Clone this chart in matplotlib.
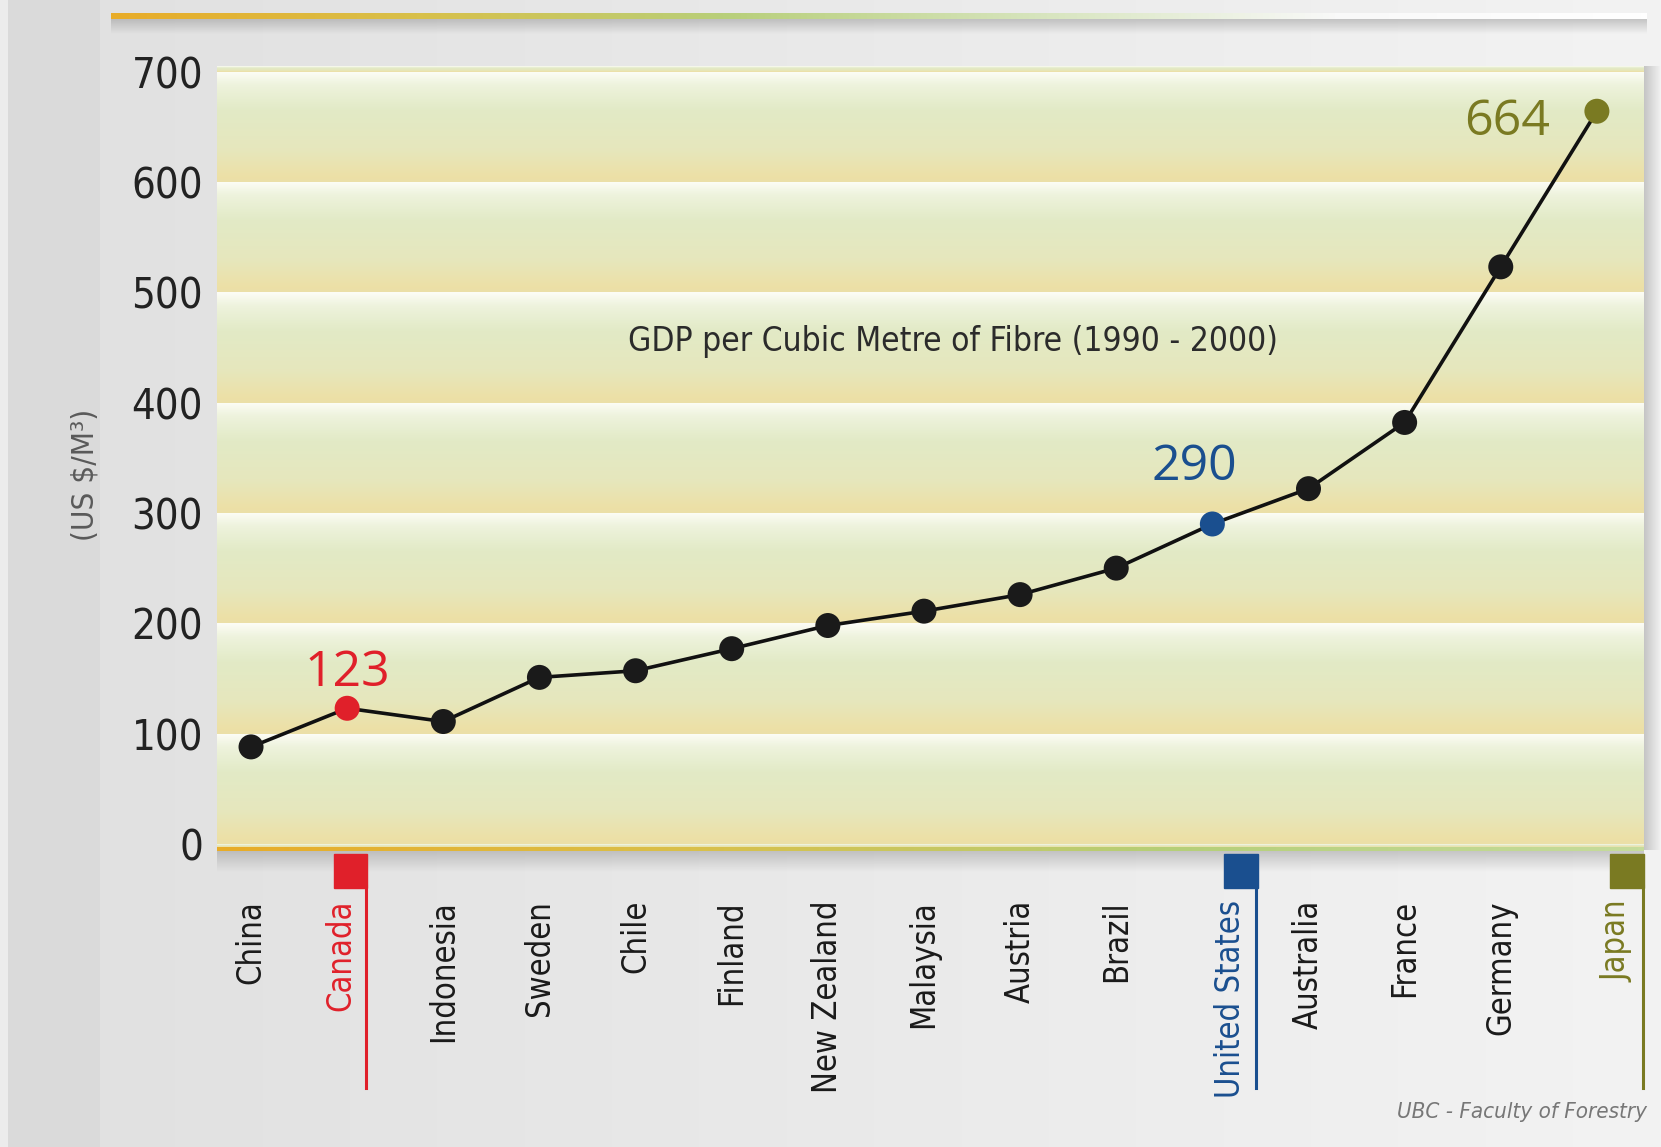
import numpy as np
import matplotlib
matplotlib.use("Agg")
import matplotlib.pyplot as plt
from matplotlib.colors import LinearSegmentedColormap, to_rgb

# GDP per cubic metre of fibre, 1990-2000 (US $/m3)
countries = ["China", "Canada", "Indonesia", "Sweden", "Chile", "Finland",
             "New Zealand", "Malaysia", "Austria", "Brazil", "United States",
             "Australia", "France", "Germany", "Japan"]
gdp_per_m3 = [88, 123, 111, 151, 157, 177, 198, 211, 226, 250, 290, 322, 382, 523, 664]
y_ticks = [0, 100, 200, 300, 400, 500, 600, 700]

# highlighted countries: colour, label x shift, value label offset (pt), alignment
highlight = {
    "Canada": ("#e0202a", -0.07, (0, 25), "center"),
    "United States": ("#1a4f8f", 0.19, (-13, 41), "center"),
    "Japan": ("#7a7a22", 0.21, (-34, -8), "right"),
}

plt.rcParams["font.family"] = ["DejaVu Sans"]
plt.rcParams["font.stretch"] = "condensed"

W, H = 1661, 1147
fig = plt.figure(figsize=(W / 100, H / 100), dpi=100)

# ---- background / decorations in pixel coordinates
bg = fig.add_axes([0, 0, 1, 1], zorder=0)
bg.set_xlim(0, W)
bg.set_ylim(H, 0)
bg.axis("off")

xs = np.linspace(0, 1, W)
c0, c1 = np.array(to_rgb("#e0e0e0")), np.array(to_rgb("#f3f3f3"))
row = c0 + (c1 - c0) * xs[:, None]
row[:100] = to_rgb("#dadada")
row[:8] = to_rgb("#ececec")
bg.imshow(np.repeat(row[None, :, :], 2, axis=0), extent=(0, W, H, 0), aspect="auto")

def hbar(x0, x1, y0, y1, colors):
    cm = LinearSegmentedColormap.from_list("g", colors)
    grad = np.linspace(0, 1, 256)[None, :]
    bg.imshow(grad, cmap=cm, extent=(x0, x1, y1, y0), aspect="auto", zorder=3)

def shadow(x0, x1, y0, y1, vertical=True, zorder=2):
    n = 64
    a = np.linspace(0.45, 0.0, n)
    img = np.zeros((n, 1, 4)) if vertical else np.zeros((1, n, 4))
    img[..., :3] = 0.55
    if vertical:
        img[:, 0, 3] = a
    else:
        img[0, :, 3] = a
    bg.imshow(img, extent=(x0, x1, y1, y0), aspect="auto", zorder=zorder)

# top rule
hbar(111, 1647, 13, 19, ["#e8ac28", "#d8c04a", "#b8cf7a", "#d6e4bc", "#f9f9f9", "#ffffff"])
shadow(111, 1647, 19, 34)

# plot frame shadows
shadow(217, 1644, 850, 872)
shadow(1644, 1661, 66, 850, vertical=False)

# ---- main chart
ax = fig.add_axes([217 / W, 1 - 847 / H, (1644 - 217) / W, (847 - 66) / H], zorder=2)
ax.patch.set_visible(False)
x = np.arange(len(countries))

# banded background: white at the top of each 100 band fading to tan
band_cm = LinearSegmentedColormap.from_list(
    "band", [(0.0, "#fdfdf6"), (0.12, "#eef3dd"), (0.35, "#e2eac6"),
             (0.7, "#e6e7bd"), (0.96, "#ede0a6"), (1.0, "#ebdfa8")])
t = np.linspace(0, 1, 200)[:, None]
for lo in y_ticks[:-1]:
    ax.imshow(t, cmap=band_cm, extent=(-0.354, 14.49, lo, lo + 100),
              aspect="auto", zorder=0)
ax.imshow(t[:20], cmap=band_cm, extent=(-0.354, 14.49, 700, 705), aspect="auto", zorder=0)
ax.imshow(np.linspace(0.9, 1, 20)[:, None], cmap=band_cm,
          extent=(-0.354, 14.49, -2.7, 0), aspect="auto", zorder=0)
ax.set_xlim(-0.354, 14.49)
ax.set_ylim(-2.7, 705)

# bottom rule
hbar(217, 1644, 845, 851, ["#e8ac28", "#d9c04a", "#b5cf78", "#c6dc9c"])

ax.plot(x, gdp_per_m3, color="#111111", lw=2.6, zorder=3)
marker_colors = [highlight[c][0] if c in highlight else "#1a1a1a" for c in countries]
ax.scatter(x, gdp_per_m3, s=18 ** 2, c=marker_colors, zorder=4, linewidths=0)

for i, (name, val) in enumerate(zip(countries, gdp_per_m3)):
    if name in highlight:
        col, _, off, ha = highlight[name]
        ax.annotate(str(val), (i, val), xytext=off, textcoords="offset points",
                    ha=ha, va="center", color=col, fontsize=36, fontstretch="normal",
                    family=["Open Sans", "DejaVu Sans"], zorder=5)

for s in ax.spines.values():
    s.set_visible(False)
ax.set_yticks(y_ticks)
ax.set_yticklabels([str(v) for v in y_ticks])
ax.tick_params(axis="y", length=0, pad=10, labelsize=30, labelcolor="#222222")
ax.set_xticks([])

# country labels and highlight tags below the axis
tr = ax.get_xaxis_transform()
for i, name in enumerate(countries):
    col, dx = "#1a1a1a", 0.0
    if name in highlight:
        col, dx = highlight[name][0], highlight[name][1]
        ax.add_patch(plt.Rectangle((i + dx - 0.07, -0.0525), 0.35, 0.0435,
                                   transform=tr, color=col, clip_on=False, zorder=5))
        ax.plot([i + dx + 0.265, i + dx + 0.265], [-0.05, -0.308], transform=tr,
                color=col, lw=2.2, clip_on=False, zorder=5)
    ax.text(i + dx, -0.068, name, transform=tr, rotation=90, ha="center", va="top",
            fontsize=23.5, color=col)

ax.text(0.516, 0.647, "GDP per Cubic Metre of Fibre (1990 - 2000)", transform=ax.transAxes,
        ha="center", va="center", fontsize=24, color="#2b2b2b")

fig.text(85 / W, 1 - 475 / H, "(US $/M³)", rotation=90, ha="center", va="center",
         fontsize=22.5, color="#595959")
fig.text(1647 / W, 1 - 1112 / H, "UBC - Faculty of Forestry", ha="right", va="center",
         fontsize=16, style="italic", color="#777777")

fig.savefig("out.png", dpi=100)
